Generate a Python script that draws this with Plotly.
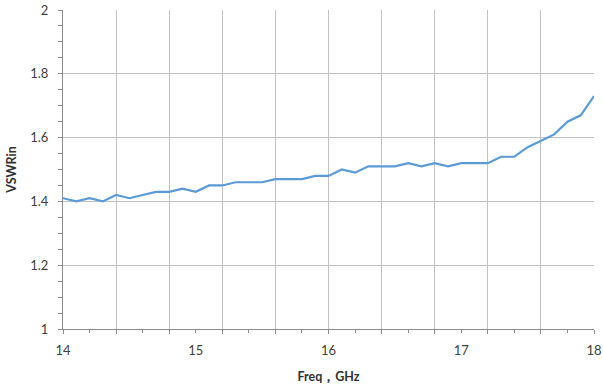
import plotly.graph_objects as go

# Input VSWR measured across 14-18 GHz, 0.1 GHz step
freq_ghz = [round(14.0 + 0.1 * i, 1) for i in range(41)]
vswr_in = [
    1.41, 1.40, 1.41, 1.40, 1.42, 1.41, 1.42, 1.43, 1.43, 1.44,
    1.43, 1.45, 1.45, 1.46, 1.46, 1.46, 1.47, 1.47, 1.47, 1.48,
    1.48, 1.50, 1.49, 1.51, 1.51, 1.51, 1.52, 1.51, 1.52, 1.51,
    1.52, 1.52, 1.52, 1.54, 1.54, 1.57, 1.59, 1.61, 1.65, 1.67,
    1.73,
]
x_labels = [14, 15, 16, 17, 18]

FONT = "Lato"
GRID = "#c2c2c2"
AXIS = "#8c8c8c"

fig = go.Figure()
fig.add_trace(go.Scatter(
    x=freq_ghz, y=vswr_in, mode="lines", xaxis="x", yaxis="y",
    line=dict(color="#5b9bd5", width=2.2),
    showlegend=False, hoverinfo="x+y",
))
# transparent copy so the labelled overlay axis gets drawn
fig.add_trace(go.Scatter(
    x=freq_ghz, y=vswr_in, mode="lines", xaxis="x2", yaxis="y",
    line=dict(color="rgba(0,0,0,0)", width=0),
    showlegend=False, hoverinfo="skip",
))

fig.update_layout(
    width=603, height=390,
    margin=dict(l=63, r=9, t=10, b=61),
    paper_bgcolor="white", plot_bgcolor="white",
    font=dict(family=FONT, size=13, color="#404040"),
    # grid and tick marks every 0.4 / 0.2 GHz
    xaxis=dict(
        range=[14, 18], tick0=14, dtick=0.4, showticklabels=False,
        showgrid=True, gridcolor=GRID, gridwidth=1,
        ticks="outside", ticklen=4, tickcolor=AXIS,
        minor=dict(dtick=0.2, tick0=14, ticks="outside", ticklen=3, tickcolor=AXIS),
        showline=True, linecolor=AXIS, linewidth=1,
        zeroline=False, automargin=False,
    ),
    # labelled axis at whole GHz
    xaxis2=dict(
        range=[14, 18], overlaying="x", anchor="y", side="bottom",
        tickmode="array", tickvals=x_labels, ticktext=[str(v) for v in x_labels],
        ticks="", showgrid=False, showline=False, zeroline=False,
        ticklabelstandoff=12, automargin=False,
        tickfont=dict(family=FONT, size=13, color="#404040"),
        title=dict(text="<b>Freq，GHz</b>", font=dict(family=FONT, size=12.5, color="#303030"), standoff=15),
    ),
    yaxis=dict(
        range=[1, 2], tick0=1, dtick=0.2,
        showgrid=True, gridcolor=GRID, gridwidth=1,
        ticks="outside", ticklen=4, tickcolor=AXIS,
        minor=dict(dtick=0.05, tick0=1, ticks="outside", ticklen=4, tickcolor=AXIS),
        showline=True, linecolor=AXIS, linewidth=1,
        zeroline=False, ticklabelstandoff=7, automargin=False,
        tickfont=dict(family=FONT, size=13, color="#404040"),
        title=dict(text="<b>VSWRin</b>", font=dict(family=FONT, size=12.5, color="#303030"), standoff=10),
    ),
)

fig.write_html("out.html")
